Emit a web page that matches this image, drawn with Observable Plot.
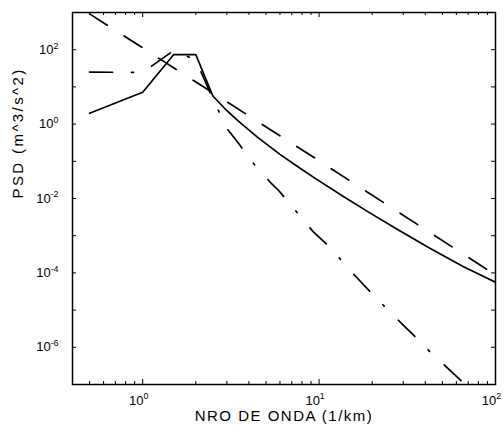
<!DOCTYPE html>
<html>
<head>
<meta charset="utf-8">
<script src="https://cdn.jsdelivr.net/npm/d3@7"></script>
<script src="https://cdn.jsdelivr.net/npm/@observablehq/plot@0.6"></script>
<style>
  html, body { margin: 0; padding: 0; background: #fff; }
  #chart svg { display: block; }
</style>
</head>
<body>
<div id="chart"></div>
<script>
// Wavenumber (1/km) and spectral density (m^3/s^2) of the three spectra
const solidK   = [0.5, 1.0, 1.5, 2.0, 2.5, 3.0, 3.5, 4.45, 6.0, 7.8, 9.7, 12.1, 13.8, 19.5, 27.7, 42.7, 65.9, 100];
const solidPsd = [1.96, 7.2, 74, 74, 5.7, 2.29, 1.18, 0.452, 0.154, 0.065, 0.0327, 0.0166, 0.0112, 0.00405, 0.00149, 4.52e-4, 1.46e-4, 5.6e-5];

const dashK   = [0.5, 1.67, 10, 100];
const dashPsd = [920, 23.5, 0.103, 8.8e-5];

const dashDotK   = [0.5, 1.0, 1.5, 2.0, 2.5, 3.0, 3.5, 4.0, 4.45, 5.34, 5.9, 7.76, 9.31, 11.6, 13.8, 16.6, 20.4, 24.5, 29.5, 36.6, 43.3, 50.8, 63.1, 66];
const dashDotPsd = [25, 24.5, 95, 53, 4.8, 0.76, 0.30, 0.125, 0.067, 0.0258, 0.0164, 0.00349, 0.00124, 4.73e-4, 1.82e-4, 6.94e-5, 2.47e-5, 1.02e-5, 4.28e-6, 1.59e-6, 6.9e-7, 3.45e-7, 1.34e-7, 1.05e-7];

// Axis ticks
const xMajor = [1, 10, 100];
const xMinor = [0.4, 0.5, 0.6, 0.7, 0.8, 0.9, 2, 3, 4, 5, 6, 7, 8, 9, 20, 30, 40, 50, 60, 70, 80, 90];
const yTicks = [1e-6, 1e-5, 1e-4, 1e-3, 1e-2, 1e-1, 1, 1e1, 1e2];
const yLabels = [1e-6, 1e-4, 1e-2, 1, 1e2];

const xTitle = "NRO DE ONDA (1/km)";
const yTitle = "PSD (m^3/s^2)";

const toRows = (ks, vs) => ks.map((k, i) => ({k, psd: vs[i]}));
const solid = toRows(solidK, solidPsd);
const dashed = toRows(dashK, dashPsd);
const dashDot = toRows(dashDotK, dashDotPsd);

const W = 504, H = 434;
const mL = 72, mR = 9, mT = 12, mB = 50;
const innerW = W - mL - mR, innerH = H - mT - mB;
const exponent = d => String(Math.round(Math.log10(d)));

const lineStyle = {x: "k", y: "psd", stroke: "black", strokeWidth: 1.7, clip: true, strokeLinejoin: "round"};

const plot = Plot.plot({
  width: W, height: H,
  marginLeft: mL, marginRight: mR, marginTop: mT, marginBottom: mB,
  x: {type: "log", domain: [0.4, 100], label: null},
  y: {type: "log", domain: [1e-7, 1e3], label: null},
  style: {fontFamily: "'Liberation Sans', Arial, Helvetica, sans-serif", fontSize: "13px", color: "black", background: "white"},
  marks: [
    Plot.line(solid, lineStyle),
    Plot.line(dashed, {...lineStyle, strokeDasharray: "21,20"}),
    Plot.line(dashDot, {...lineStyle, strokeDasharray: "23,19,2,20"}),

    // inward ticks on all four sides
    Plot.tickX(xMajor, {x: d => d, insetTop: innerH - 5, stroke: "black"}),
    Plot.tickX(xMajor, {x: d => d, insetBottom: innerH - 5, stroke: "black"}),
    Plot.tickX(xMinor, {x: d => d, insetTop: innerH - 3, stroke: "black"}),
    Plot.tickX(xMinor, {x: d => d, insetBottom: innerH - 3, stroke: "black"}),
    Plot.tickY(yTicks, {y: d => d, insetRight: innerW - 4, stroke: "black"}),
    Plot.tickY(yTicks, {y: d => d, insetLeft: innerW - 4, stroke: "black"}),

    Plot.axisX(xMajor, {tickSize: 0, tickPadding: 11, dx: -4, tickFormat: exponent, label: null}),
    Plot.axisY(yLabels, {tickSize: 0, tickPadding: 14, tickFormat: exponent, label: null}),

    Plot.frame({stroke: "black", strokeWidth: 1.5}),

    Plot.text([xTitle], {frameAnchor: "bottom", dy: 36, text: d => d, fontSize: 15, fill: "black"}),
    Plot.text([yTitle], {frameAnchor: "left", dx: -54, rotate: -90, text: d => d, fontSize: 15, fill: "black"})
  ]
});

// powers of ten: "10" with a raised exponent
d3.select(plot)
  .selectAll('g[aria-label="x-axis tick label"] text, g[aria-label="y-axis tick label"] text')
  .each(function() {
    const e = this.textContent;
    const t = d3.select(this);
    t.text("10");
    t.append("tspan").attr("dy", "-0.6em").attr("font-size", "0.68em").text(e);
  });

// wide lettering of the axis titles
d3.select(plot).selectAll('g[aria-label="text"] text').each(function() {
  const s = this.textContent;
  if (s === xTitle) this.setAttribute("letter-spacing", "1.5");
  if (s === yTitle) this.setAttribute("letter-spacing", "2.4");
});

document.getElementById("chart").append(plot);
</script>
</body>
</html>
